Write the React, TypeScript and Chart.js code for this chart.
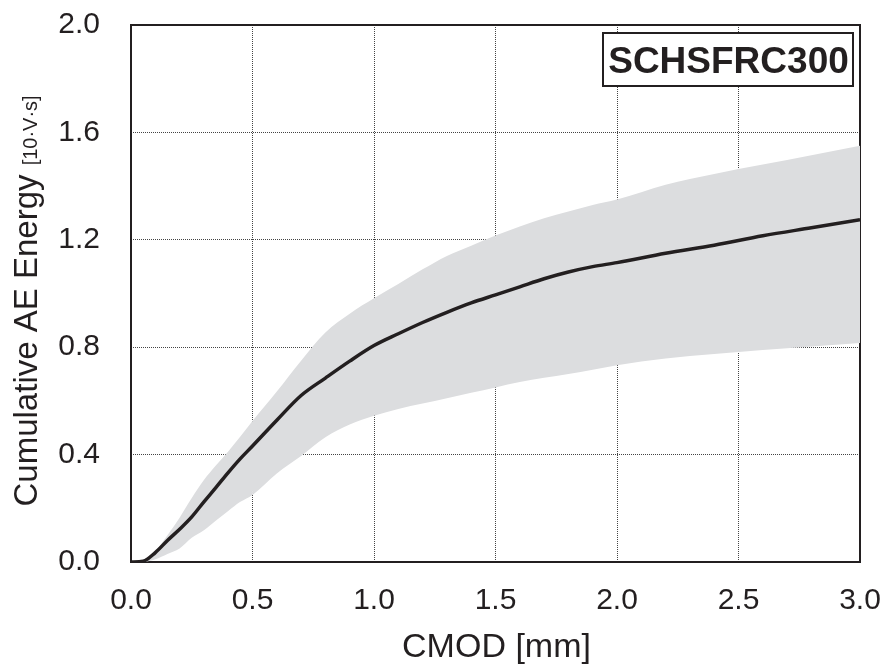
import React, { useEffect, useRef } from "react";
import { Chart, registerables } from "chart.js";

Chart.register(...registerables);

const cmod = [0, 0.05, 0.1, 0.15, 0.2, 0.25, 0.3, 0.35, 0.4, 0.45, 0.5, 0.6, 0.7, 0.8, 0.9, 1.0, 1.1, 1.2, 1.3, 1.4, 1.5, 1.6, 1.7, 1.8, 1.9, 2.0, 2.2, 2.4, 2.6, 2.8, 3.0];
const meanEnergy = [0, 0.003, 0.035, 0.08, 0.122, 0.168, 0.224, 0.278, 0.333, 0.385, 0.432, 0.528, 0.62, 0.685, 0.748, 0.806, 0.85, 0.892, 0.93, 0.965, 0.995, 1.025, 1.055, 1.08, 1.1, 1.115, 1.15, 1.18, 1.215, 1.245, 1.275];
const upperEnergy = [0, 0.004, 0.04, 0.1, 0.165, 0.238, 0.305, 0.36, 0.412, 0.467, 0.525, 0.635, 0.75, 0.855, 0.925, 0.982, 1.035, 1.09, 1.14, 1.178, 1.216, 1.25, 1.28, 1.305, 1.33, 1.35, 1.405, 1.445, 1.48, 1.515, 1.55];
const lowerEnergy = [0, 0, 0.01, 0.03, 0.05, 0.09, 0.118, 0.155, 0.19, 0.224, 0.25, 0.33, 0.395, 0.465, 0.512, 0.545, 0.57, 0.59, 0.61, 0.63, 0.65, 0.67, 0.686, 0.7, 0.716, 0.733, 0.758, 0.775, 0.79, 0.803, 0.816];

const xTicks = [0, 0.5, 1.0, 1.5, 2.0, 2.5, 3.0];
const yTicks = [0, 0.4, 0.8, 1.2, 1.6, 2.0];

const xTitle = "CMOD [mm]";
const yTitleMain = "Cumulative AE Energy ";
const yTitleUnit = "[10·V·s]";
const specimenLabel = "SCHSFRC300";

const FONT = "'Liberation Sans', Arial, sans-serif";
const INK = "#231f20";
const BAND = "#dcdddf";

export default function App() {
  const ref = useRef<HTMLCanvasElement | null>(null);
  useEffect(() => {
    if (!ref.current) return;
    const toPts = (ys: number[]) => cmod.map((x, i) => ({ x, y: ys[i] }));

    const decor = {
      id: "decor",
      beforeDatasetsDraw(chart: any) {
        const { ctx, chartArea: a } = chart;
        ctx.save();
        ctx.strokeStyle = INK;
        ctx.lineWidth = 2;
        ctx.strokeRect(a.left, a.top, a.right - a.left, a.bottom - a.top);
        ctx.restore();
      },
      afterDraw(chart: any) {
        const { ctx, chartArea: a } = chart;
        ctx.save();
        // label box
        const bx = 603, by = 33, bw = 250, bh = 53;
        ctx.fillStyle = "#ffffff";
        ctx.fillRect(bx, by, bw, bh);
        ctx.strokeStyle = INK;
        ctx.lineWidth = 2;
        ctx.strokeRect(bx, by, bw, bh);
        ctx.fillStyle = INK;
        ctx.font = `bold 37px ${FONT}`;
        ctx.textAlign = "center";
        ctx.textBaseline = "alphabetic";
        ctx.fillText(specimenLabel, bx + bw / 2 + 0.5, 72.5);
        // x title
        ctx.font = `34px ${FONT}`;
        ctx.fillText(xTitle, (a.left + a.right) / 2 + 1, 657);
        // y title
        ctx.translate(36.5, 506.5);
        ctx.rotate(-Math.PI / 2);
        ctx.textAlign = "left";
        ctx.font = `33px ${FONT}`;
        const w1 = ctx.measureText(yTitleMain).width;
        ctx.fillText(yTitleMain, 0, 0);
        ctx.font = `20px ${FONT}`;
        ctx.fillText(yTitleUnit, w1, 0);
        ctx.restore();
      },
    };

    const chart = new Chart(ref.current, {
      type: "line",
      data: {
        datasets: [
          {
            label: "mean",
            data: toPts(meanEnergy),
            borderWidth: 3.5,
            borderColor: INK,
            pointRadius: 0,
            fill: false,
            cubicInterpolationMode: "monotone",
          },
          {
            label: "upper",
            data: toPts(upperEnergy),
            borderWidth: 0,
            borderColor: "rgba(0,0,0,0)",
            backgroundColor: BAND,
            pointRadius: 0,
            fill: "+1",
            cubicInterpolationMode: "monotone",
          },
          {
            label: "lower",
            data: toPts(lowerEnergy),
            borderWidth: 0,
            borderColor: "rgba(0,0,0,0)",
            backgroundColor: BAND,
            pointRadius: 0,
            fill: false,
            cubicInterpolationMode: "monotone",
          },
        ],
      },
      options: {
        animation: false,
        responsive: false,
        maintainAspectRatio: false,
        layout: { padding: { left: 0, right: 30, top: 25, bottom: 0 } },
        plugins: { legend: { display: false }, tooltip: { enabled: false } },
        scales: {
          x: {
            type: "linear",
            min: 0,
            max: 3,
            afterFit: (s: any) => {
              s.height = 106;
              s.paddingLeft = 0;
              s.paddingRight = 0;
            },
            afterBuildTicks: (s: any) => {
              s.ticks = xTicks.map((v) => ({ value: v }));
            },
            ticks: {
              padding: 21,
              color: INK,
              font: { family: FONT, size: 30 },
              callback: (v: any) => Number(v).toFixed(1),
              maxRotation: 0,
              autoSkip: false,
            },
            grid: { color: "#444", lineWidth: 1, drawTicks: false },
            border: { display: false, dash: [1, 1] },
          },
          y: {
            min: 0,
            max: 2,
            afterFit: (s: any) => {
              s.width = 131;
              s.paddingTop = 0;
              s.paddingBottom = 0;
            },
            afterBuildTicks: (s: any) => {
              s.ticks = yTicks.map((v) => ({ value: v }));
            },
            ticks: {
              padding: 31,
              color: INK,
              font: { family: FONT, size: 30 },
              callback: (v: any) => Number(v).toFixed(1),
              autoSkip: false,
            },
            grid: { color: "#444", lineWidth: 1, drawTicks: false },
            border: { display: false, dash: [1, 1] },
          },
        },
      },
      plugins: [decor],
    });
    return () => chart.destroy();
  }, []);
  return (
    <div style={{ position: "absolute", left: 0, top: 0, width: 890, height: 668, background: "#fff" }}>
      <canvas ref={ref} width={890} height={668} style={{ width: 890, height: 668, display: "block" }} />
    </div>
  );
}
